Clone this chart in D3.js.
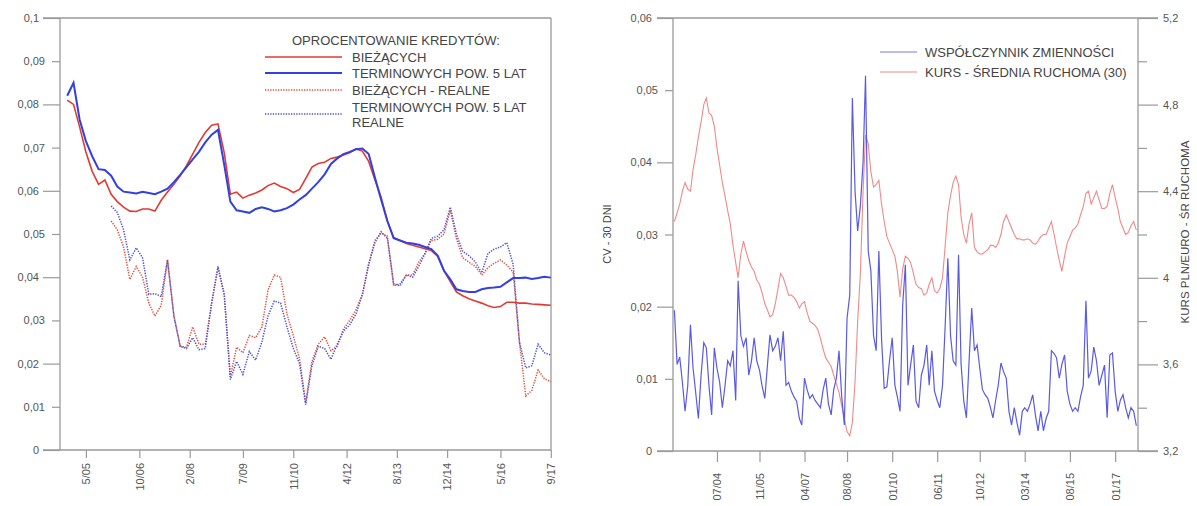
<!DOCTYPE html>
<html>
<head>
<meta charset="utf-8">
<script src="https://cdn.jsdelivr.net/npm/d3@7"></script>
<style>
  body { margin: 0; background: #fff; }
  text { font-family: "Liberation Sans", Arial, sans-serif; fill: #444; }
</style>
</head>
<body>
<svg id="chart" width="1197" height="506"></svg>
<script>
// ---- left panel: loan interest rates, every 2 months from 11/2004 ----
const leftTickLabels = ["5/05", "10/06", "2/08", "7/09", "11/10", "4/12", "8/13", "12/14", "5/16", "9/17"];
const biezace = [
  0.081, 0.080, 0.0748, 0.069, 0.0645, 0.0615, 0.0625, 0.0592, 0.0575, 0.0562,
  0.0553, 0.0552, 0.0558, 0.0558, 0.0553, 0.0578, 0.0597, 0.0615, 0.0635, 0.0658,
  0.0685, 0.0712, 0.0735, 0.0752, 0.0755, 0.0688, 0.0592, 0.0597, 0.0583, 0.059,
  0.0595, 0.0602, 0.0612, 0.0618, 0.061, 0.0605, 0.0596, 0.0603, 0.0628, 0.0655,
  0.0663, 0.0666, 0.0675, 0.0678, 0.0683, 0.0688, 0.0697, 0.0692, 0.0668, 0.0625,
  0.0585, 0.053, 0.0492, 0.0485, 0.0478, 0.0474, 0.047, 0.0466, 0.0462, 0.0448,
  0.0415, 0.039, 0.0366, 0.0357, 0.035, 0.0345, 0.034, 0.0334, 0.033, 0.0332,
  0.0342, 0.0342, 0.034, 0.034, 0.0338, 0.0337, 0.0336, 0.0335
];
const terminowe = [
  0.082, 0.085, 0.0765, 0.0715, 0.068, 0.065, 0.0648, 0.0635, 0.061, 0.0598,
  0.0596, 0.0594, 0.0598, 0.0595, 0.0592, 0.0598, 0.0605, 0.062, 0.0637, 0.0655,
  0.0673, 0.069, 0.0712, 0.073, 0.0741, 0.066, 0.0575, 0.0555, 0.0552, 0.0549,
  0.0558, 0.0562, 0.0558, 0.0552, 0.0555, 0.056, 0.0568, 0.058, 0.059, 0.0605,
  0.062, 0.0638, 0.0662, 0.0675, 0.0685, 0.069, 0.0696, 0.0698, 0.0685, 0.063,
  0.058, 0.053, 0.049, 0.0485, 0.048, 0.0478, 0.0475, 0.047, 0.0465, 0.045,
  0.0415, 0.0395, 0.0372, 0.0368, 0.0366, 0.0366, 0.0372, 0.0375, 0.0376, 0.0378,
  0.0388, 0.0398, 0.0398, 0.0399, 0.0396, 0.0398, 0.0401, 0.0399
];
// real rates start 7 periods later (7/2006)
const biezaceRealne = [
  null, null, null, null, null, null, null,
  0.053, 0.051, 0.047, 0.0395, 0.0425, 0.04, 0.034, 0.031, 0.0335, 0.044,
  0.031, 0.024, 0.0238, 0.0285, 0.0245, 0.0245, 0.034, 0.0422, 0.036, 0.017,
  0.0238, 0.0225, 0.0265, 0.026, 0.0285, 0.037, 0.0405, 0.04, 0.0315, 0.0265,
  0.021, 0.011, 0.0205, 0.0245, 0.0262, 0.023, 0.024, 0.028, 0.03, 0.0325,
  0.036, 0.043, 0.0485, 0.0502, 0.0495, 0.038, 0.0385, 0.0405, 0.0405, 0.0435,
  0.0455, 0.0485, 0.0488, 0.05, 0.0555, 0.049, 0.0445, 0.0435, 0.0425, 0.0405,
  0.0422, 0.0432, 0.044, 0.0428, 0.0412, 0.025, 0.0125, 0.0138, 0.0185, 0.0165,
  0.0158
];
const terminoweRealne = [
  null, null, null, null, null, null, null,
  0.0565, 0.055, 0.051, 0.044, 0.0468, 0.0445, 0.036, 0.0362, 0.0355, 0.044,
  0.031, 0.024, 0.0235, 0.026, 0.0232, 0.0235, 0.034, 0.0425, 0.036, 0.0163,
  0.0205, 0.0175, 0.0228, 0.0208, 0.025, 0.031, 0.0345, 0.034, 0.0285, 0.0235,
  0.02, 0.0105, 0.0195, 0.024, 0.0235, 0.021, 0.0245, 0.0275, 0.029, 0.0315,
  0.036, 0.043, 0.048, 0.0505, 0.049, 0.0385, 0.038, 0.0405, 0.04, 0.0425,
  0.0455, 0.049, 0.0495, 0.051, 0.0562, 0.05, 0.046, 0.045, 0.0435, 0.041,
  0.0455, 0.0465, 0.047, 0.048, 0.043, 0.025, 0.019, 0.0195, 0.0245, 0.0225,
  0.022
];
const leftYTicks = [0, 0.01, 0.02, 0.03, 0.04, 0.05, 0.06, 0.07, 0.08, 0.09, 0.1];

// ---- right panel: monthly from 3/2003 ----
const rightTickLabels = ["07/04", "11/05", "04/07", "08/08", "01/10", "06/11", "10/12", "03/14", "08/15", "01/17"];
const kurs = [
  4.26, 4.30, 4.34, 4.40, 4.44, 4.41, 4.40, 4.50, 4.57, 4.65,
  4.72, 4.80, 4.83, 4.76, 4.75, 4.70, 4.60, 4.52, 4.44, 4.38,
  4.31, 4.25, 4.15, 4.07, 4.00, 4.11, 4.17, 4.12, 4.08, 4.05,
  4.03, 3.99, 3.97, 3.93, 3.88, 3.85, 3.82, 3.83, 3.88, 3.95,
  4.02, 4.00, 3.96, 3.92, 3.92, 3.91, 3.89, 3.86, 3.88, 3.89,
  3.84, 3.80, 3.79, 3.78, 3.76, 3.72, 3.67, 3.63, 3.61, 3.59,
  3.55, 3.51, 3.47, 3.41, 3.35, 3.29, 3.27, 3.33, 3.52, 3.80,
  4.02, 4.40, 4.66, 4.62, 4.49, 4.42, 4.43, 4.45, 4.34, 4.26,
  4.19, 4.16, 4.13, 4.10, 4.03, 3.91, 4.04, 4.10, 4.09, 4.07,
  4.02, 3.97, 3.955, 3.95, 3.92, 3.93, 3.97, 4.00, 3.94, 3.93,
  3.95, 4.00, 4.15, 4.30, 4.38, 4.44, 4.47, 4.43, 4.28, 4.20,
  4.16, 4.25, 4.30, 4.14, 4.12, 4.11, 4.11, 4.12, 4.13, 4.15,
  4.15, 4.14, 4.16, 4.20, 4.26, 4.29, 4.26, 4.23, 4.20, 4.18,
  4.18, 4.175, 4.175, 4.18, 4.175, 4.16, 4.155, 4.17, 4.19, 4.20,
  4.20, 4.23, 4.26, 4.20, 4.14, 4.08, 4.03, 4.10, 4.16, 4.19,
  4.22, 4.23, 4.25, 4.29, 4.33, 4.39, 4.40, 4.34, 4.37, 4.40,
  4.36, 4.32, 4.32, 4.33, 4.39, 4.43, 4.37, 4.32, 4.26, 4.23,
  4.20, 4.21, 4.24, 4.26, 4.22
];
const cv = [
  0.0195, 0.012, 0.013, 0.0095, 0.0055, 0.009, 0.0175, 0.0115, 0.008, 0.0045,
  0.0105, 0.015, 0.0143, 0.009, 0.005, 0.0143, 0.0115, 0.0095, 0.006, 0.009,
  0.0125, 0.0118, 0.0139, 0.007, 0.0236, 0.016, 0.0145, 0.0157, 0.0105, 0.0125,
  0.0157, 0.0125, 0.0112, 0.009, 0.0073, 0.012, 0.0161, 0.0139, 0.0145, 0.0157,
  0.0125, 0.0166, 0.0091, 0.0095, 0.0083, 0.0075, 0.0069, 0.0045, 0.0036, 0.0101,
  0.0085, 0.0073, 0.0078, 0.007, 0.0065, 0.006, 0.0085, 0.0101, 0.0065, 0.005,
  0.0085, 0.0101, 0.0139, 0.0075, 0.0036, 0.0184, 0.0216, 0.0489, 0.036, 0.0305,
  0.034, 0.04, 0.052, 0.0277, 0.025, 0.016, 0.0139, 0.0277, 0.0155, 0.0087,
  0.0089, 0.0125, 0.0157, 0.0091, 0.0075, 0.0055, 0.0202, 0.0258, 0.0091, 0.012,
  0.0147, 0.0069, 0.006, 0.0105, 0.0119, 0.0147, 0.0091, 0.0139, 0.0083, 0.007,
  0.006, 0.0091, 0.0175, 0.0267, 0.016, 0.0125, 0.0119, 0.0272, 0.012, 0.0069,
  0.0046, 0.0125, 0.0198, 0.0139, 0.0147, 0.0115, 0.0085, 0.0078, 0.0073, 0.006,
  0.0046, 0.007, 0.0091, 0.0122, 0.011, 0.0101, 0.0055, 0.0036, 0.006, 0.004,
  0.0022, 0.0055, 0.006, 0.0055, 0.0065, 0.0078, 0.005, 0.0028, 0.0055, 0.0028,
  0.0045, 0.0055, 0.0139, 0.0135, 0.0129, 0.0101, 0.012, 0.0133, 0.0083, 0.0065,
  0.0055, 0.006, 0.0055, 0.0075, 0.0091, 0.0208, 0.0101, 0.0111, 0.0144, 0.0125,
  0.0091, 0.0105, 0.0119, 0.0046, 0.0133, 0.0136, 0.0083, 0.0055, 0.007, 0.0078,
  0.006, 0.0046, 0.006, 0.0055, 0.0035
];
const cvTicks = [0, 0.01, 0.02, 0.03, 0.04, 0.05, 0.06];
const kursTicks = [3.2, 3.4, 3.6, 3.8, 4, 4.2, 4.4, 4.6, 4.8, 5, 5.2];

const svg = d3.select("#chart");
const pl = d3.formatLocale({ decimal: ",", thousands: " ", grouping: [3], currency: ["", " zł"] });
const fmt2 = pl.format(".2~f");
const fmt1 = pl.format(".1~f");
const grey = "#9a9a9a";

// "5/05" -> Date
function parseTick(s) {
  const [m, y] = s.split("/").map(Number);
  return new Date(2000 + y, m - 1, 1);
}

function styleAxis(g) {
  g.select(".domain").remove();
  g.selectAll(".tick line").attr("stroke", grey).attr("stroke-width", 1.2);
  g.selectAll(".tick text").style("font-size", "11px").style("fill", "#555");
}

function rotateLabels(g, off) {
  g.selectAll(".tick text")
    .attr("x", -off).attr("y", 0).attr("dy", "0.35em")
    .attr("transform", "rotate(-90)")
    .style("text-anchor", "end");
}

function frame(lines) {
  svg.append("g").selectAll("line").data(lines).enter().append("line")
    .attr("x1", d => d[0]).attr("y1", d => d[1]).attr("x2", d => d[2]).attr("y2", d => d[3])
    .attr("stroke", grey).attr("stroke-width", 1.3);
}

// ================= LEFT PANEL =================
const leftDates = biezace.map((d, i) => d3.timeMonth.offset(new Date(2004, 10, 1), i * 2));
const xL = d3.scaleTime().domain([new Date(2004, 7, 23), new Date(2017, 8, 3)]).range([60, 551]);
const yL = d3.scaleLinear().domain([0, 0.1]).range([450, 18]);

frame([[43, 18, 551, 18], [551, 18, 551, 450], [43, 450, 551, 450], [60, 18, 60, 450]]);

svg.append("g").attr("transform", "translate(60,0)")
  .call(d3.axisLeft(yL).tickValues(leftYTicks.filter((d, i) => i % 2 === 0)).tickSize(17).tickPadding(4).tickFormat(fmt2))
  .call(styleAxis);
svg.append("g").attr("transform", "translate(60,0)")
  .call(d3.axisLeft(yL).tickValues(leftYTicks.filter((d, i) => i % 2 === 1)).tickSize(8).tickPadding(7).tickFormat(fmt2))
  .call(styleAxis);

svg.append("g").attr("transform", "translate(0,450)")
  .call(d3.axisBottom(xL).tickValues(leftTickLabels.map(parseTick)).tickSize(8).tickFormat((d, i) => leftTickLabels[i]))
  .call(styleAxis)
  .call(g => rotateLabels(g, 13));

const leftSeries = [
  { name: "BIEŻĄCYCH", values: biezace, color: "#e23a33", width: 1.6, dash: null },
  { name: "TERMINOWYCH POW. 5 LAT", values: terminowe, color: "#3340e0", width: 2, dash: null },
  { name: "BIEŻĄCYCH - REALNE", values: biezaceRealne, color: "#e0503f", width: 1.5, dash: "1.3,1.3" },
  { name: "TERMINOWYCH POW. 5 LAT\nREALNE", values: terminoweRealne, color: "#4a50d8", width: 1.5, dash: "1.3,1.3" }
];

const lineL = d3.line()
  .defined(d => d[1] !== null)
  .x(d => xL(d[0])).y(d => yL(d[1]));

const drawOrder = [2, 3, 0, 1];
drawOrder.forEach(k => {
  const s = leftSeries[k];
  svg.append("path")
    .datum(leftDates.map((dt, i) => [dt, s.values[i]]))
    .attr("d", lineL)
    .attr("fill", "none")
    .attr("stroke", s.color)
    .attr("stroke-width", s.width)
    .attr("stroke-dasharray", s.dash);
});

// legend
svg.append("text").attr("x", 292).attr("y", 40).attr("dy", "0.35em")
  .style("font-size", "13px").text("OPROCENTOWANIE KREDYTÓW:");
const legRowsL = [57, 73, 90, 107];
leftSeries.forEach((s, i) => {
  const ly = i === 3 ? 114 : legRowsL[i];
  svg.append("line").attr("x1", 265).attr("x2", 342).attr("y1", ly).attr("y2", ly)
    .attr("stroke", s.color).attr("stroke-width", s.width).attr("stroke-dasharray", s.dash);
  const t = svg.append("text").attr("x", 352).attr("y", legRowsL[i]).style("font-size", "13px");
  s.name.split("\n").forEach((part, j) => {
    t.append("tspan").attr("x", 352).attr("dy", j === 0 ? "0.35em" : "1.15em").text(part);
  });
});

// ================= RIGHT PANEL =================
const rightDates = cv.map((d, i) => d3.timeMonth.offset(new Date(2003, 2, 1), i));
const xR = d3.scaleTime().domain([new Date(2003, 1, 13), new Date(2017, 8, 20)]).range([673, 1138]);
const yCV = d3.scaleLinear().domain([0, 0.06]).range([451, 18]);
const yK = d3.scaleLinear().domain([3.2, 5.2]).range([451, 18]);

frame([[657, 18, 1158, 18], [657, 451, 1158, 451], [673, 18, 673, 451], [1138, 18, 1138, 451]]);

svg.append("g").attr("transform", "translate(673,0)")
  .call(d3.axisLeft(yCV).tickValues(cvTicks.filter((d, i) => i % 2 === 0)).tickSize(16).tickPadding(5).tickFormat(fmt2))
  .call(styleAxis);
svg.append("g").attr("transform", "translate(673,0)")
  .call(d3.axisLeft(yCV).tickValues(cvTicks.filter((d, i) => i % 2 === 1)).tickSize(8).tickPadding(7).tickFormat(fmt2))
  .call(styleAxis);

svg.append("g").attr("transform", "translate(1138,0)")
  .call(d3.axisRight(yK).tickValues(kursTicks.filter((d, i) => i % 2 === 0)).tickSize(20).tickPadding(5).tickFormat(fmt1))
  .call(styleAxis);
svg.append("g").attr("transform", "translate(1138,0)")
  .call(d3.axisRight(yK).tickValues(kursTicks.filter((d, i) => i % 2 === 1)).tickSize(9).tickFormat(""))
  .call(styleAxis);

svg.append("g").attr("transform", "translate(0,451)")
  .call(d3.axisBottom(xR).tickValues(rightTickLabels.map(parseTick)).tickSize(11).tickFormat((d, i) => rightTickLabels[i]))
  .call(styleAxis)
  .call(g => rotateLabels(g, 22));

svg.append("path")
  .datum(rightDates.map((dt, i) => [dt, kurs[i]]))
  .attr("d", d3.line().x(d => xR(d[0])).y(d => yK(d[1])))
  .attr("fill", "none").attr("stroke", "#f08a8a").attr("stroke-width", 1.1);

svg.append("path")
  .datum(rightDates.map((dt, i) => [dt, cv[i]]))
  .attr("d", d3.line().x(d => xR(d[0])).y(d => yCV(d[1])))
  .attr("fill", "none").attr("stroke", "#5a5ae2").attr("stroke-width", 1.2);

// axis titles
svg.append("text").attr("transform", "translate(607,234) rotate(-90)")
  .attr("text-anchor", "middle").attr("dy", "0.35em").style("font-size", "11px").text("CV - 30 DNI");
svg.append("text").attr("transform", "translate(1185,232) rotate(-90)")
  .attr("text-anchor", "middle").attr("dy", "0.35em").style("font-size", "11.5px").text("KURS PLN/EURO - ŚR RUCHOMA");

// legend
const legR = [
  { name: "WSPÓŁCZYNNIK ZMIENNOŚCI", color: "#7a7ae6", y: 52 },
  { name: "KURS - ŚREDNIA RUCHOMA (30)", color: "#f08a8a", y: 72 }
];
legR.forEach(s => {
  svg.append("line").attr("x1", 880).attr("x2", 917).attr("y1", s.y).attr("y2", s.y)
    .attr("stroke", s.color).attr("stroke-width", 1.2);
  svg.append("text").attr("x", 925).attr("y", s.y).attr("dy", "0.35em")
    .style("font-size", "13px").text(s.name);
});
</script>
</body>
</html>
